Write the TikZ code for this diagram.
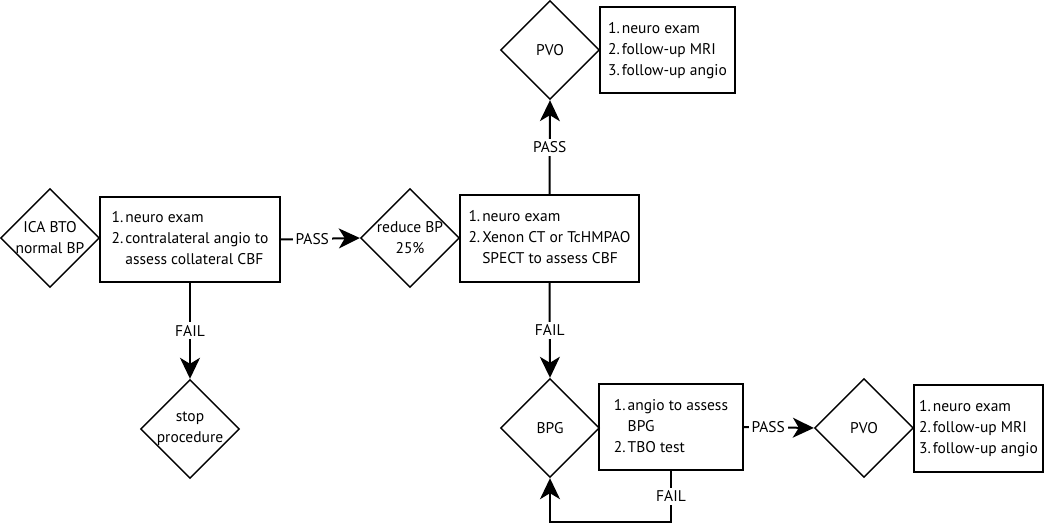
\documentclass[tikz,border=0pt]{standalone}
\usepackage{fontspec}
\setmainfont{PT Sans}
\usetikzlibrary{arrows.meta, shapes.geometric}
\tikzset{>={Stealth[length=21pt,width=20pt,inset=6pt]}}
\tikzset{
  test/.style={diamond, draw, line width=1.4pt, minimum size=99pt,
    inner sep=-14pt, align=center},
  steps/.style={rectangle, draw, line width=1.4pt, inner sep=0pt},
  flow/.style={->, line width=2pt},
  result/.style={fill=white, inner sep=3pt}
}
\newcommand{\chartfont}{\fontsize{15.5}{21}\selectfont}

\begin{document}
\begin{tikzpicture}[x=1pt, y=1pt, every node/.style={font=\chartfont}]
  \useasboundingbox (0,0) rectangle (1050,524);

  % left part
  \node[test] (bto) at (50,286) {ICA BTO\\normal BP};
  \node[steps, minimum width=180pt, minimum height=85pt] (exam) at (190,284.5)
    {\begin{tabular}{@{}l@{\hspace{2pt}}l@{}}
      1. & neuro exam\\
      2. & contralateral angio to\\
         & assess collateral CBF
    \end{tabular}};
  \node[test] (stop) at (190,95) {stop\\procedure};

  % reduced pressure
  \node[test] (reduce) at (410,286) {reduce BP\\25\%};
  \node[steps, minimum width=179pt, minimum height=87pt] (cbf) at (549.5,285.5)
    {\begin{tabular}{@{}l@{\hspace{2pt}}l@{}}
      1. & neuro exam\\
      2. & Xenon CT or TcHMPAO\\
         & SPECT to assess CBF
    \end{tabular}};

  % top PVO
  \node[test] (pvotop) at (550,474) {PVO};
  \node[steps, minimum width=135pt, minimum height=86pt] (followtop) at (667.5,474)
    {\begin{tabular}{@{}l@{\hspace{2pt}}l@{}}
      1. & neuro exam\\
      2. & follow-up MRI\\
      3. & follow-up angio
    \end{tabular}};

  % bypass graft
  \node[test] (bpg) at (550,96) {BPG};
  \node[steps, minimum width=144pt, minimum height=86pt] (tbo) at (671,97)
    {\begin{tabular}{@{}l@{\hspace{2pt}}l@{}}
      1. & angio to assess\\
         & BPG\\
      2. & TBO test
    \end{tabular}};
  \node[test] (pvobot) at (864,96) {PVO};
  \node[steps, minimum width=129pt, minimum height=87pt] (followbot) at (978.5,95.5)
    {\begin{tabular}{@{}l@{\hspace{2pt}}l@{}}
      1. & neuro exam\\
      2. & follow-up MRI\\
      3. & follow-up angio
    \end{tabular}};

  \coordinate (loop) at (550,2);

  \draw[flow] (exam.east) -- node[result, pos=0.4] {PASS} (reduce.west);
  \draw[flow] (exam.south) -- node[result] {FAIL} (stop.north);
  \draw[flow] (cbf.north) -- node[result] {PASS} (pvotop.south);
  \draw[flow] (cbf.south) -- node[result] {FAIL} (bpg.north);
  \draw[flow] (tbo.east) -- node[result, pos=0.35] {PASS} (pvobot.west);
  \draw[flow] (tbo.south) -- node[result] {FAIL} (tbo.south |- loop) -- (loop)
    -- (bpg.south);
\end{tikzpicture}
\end{document}
